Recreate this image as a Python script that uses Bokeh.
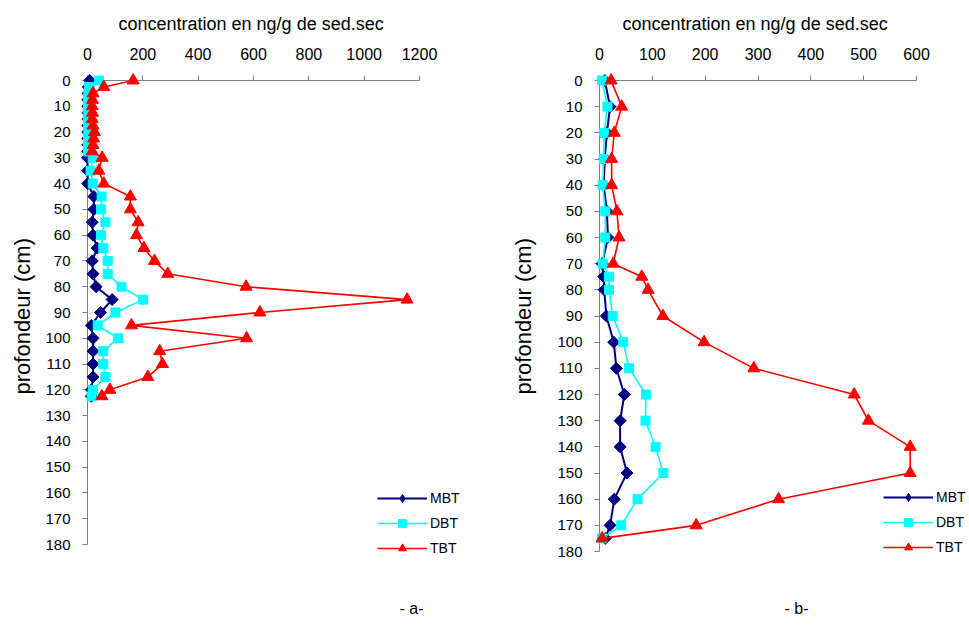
import math
from bokeh.plotting import figure
from bokeh.layouts import row
from bokeh.models import Range1d, FixedTicker, Legend, LegendItem, Label, Title
from bokeh.embed import file_html
from bokeh.resources import INLINE

FONT = "Liberation Sans"

# ---- panel a ----
depths_a = [0, 2.5, 5, 7.5, 10, 12.5, 15, 17.5, 20, 22.5, 25, 27.5, 30, 35, 40, 45, 50, 55, 60,
            65, 70, 75, 80, 85, 90, 95, 100, 105, 110, 115, 120, 122.5]
mbt_a = [8, 3, 2, 1, 1, 2, 2, 1, 1, 1, 1, 1, 0, 0, 1, 23, 23, 17, 20,
         35, 17, 20, 31, 89, 47, 14, 20, 20, 20, 20, 14, 14]
dbt_a = [41, 5, 3, 2, 2, 3, 2, 2, 3, 2, 2, 2, 19, 11, 19, 51, 49, 65, 49,
         57, 73, 73, 123, 201, 101, 37, 110, 57, 57, 65, 19, 15]
tbt_a = [165, 59, 20, 18, 17, 18, 17, 20, 25, 22, 20, 17, 53, 41, 59, 155, 155, 183, 177,
         204, 242, 290, 573, 1155, 623, 159, 575, 261, 271, 218, 81, 52]
xticks_a = [0, 200, 400, 600, 800, 1000, 1200]

# ---- panel b ----
depths_b = [0, 10, 20, 30, 40, 50, 60, 70, 75, 80, 90, 100, 110, 120, 130, 140, 150, 160, 170, 175]
mbt_b = [10, 20, 14, 10, 8, 14, 16, 5, 8, 9, 13, 27, 32, 47, 39, 39, 52, 28, 20, 11]
dbt_b = [5, 15, 9, 8, 6, 11, 11, 6, 18, 18, 25, 45, 56, 88, 87, 106, 121, 72, 41, 5]
tbt_b = [22, 42, 28, 23, 23, 33, 37, 26, 80, 92, 120, 198, 292, 482, 509, 588, 588, 339, 183, 5]
xticks_b = [0, 100, 200, 300, 400, 500, 600]

yticks = list(range(0, 181, 10))
series_names = ["MBT", "DBT", "TBT"]
colors = ["#000080", "#00FFFF", "#FF0000"]
xlabel = "concentration en ng/g de sed.sec"
ylabel = "profondeur  (cm)"

H = 620
TOP = 80


def make(depths, mbt, dbt, tbt, xmax, xticks, width, bl, axis_px_x, axis_px_y,
         legend_xy, tag, tag_xy, xlabel_off, ylabel_off, ylabel_standoff):
    frame_w = width - bl
    frame_h = H - TOP
    x_end = xmax * frame_w / axis_px_x
    y_end = 180 * frame_h / axis_px_y
    p = figure(width=width, height=H, x_range=Range1d(0, x_end), y_range=Range1d(y_end, 0),
               x_axis_location="above", output_backend="svg", toolbar_location=None,
               title=None, min_border_left=bl, min_border_right=0,
               min_border_top=TOP, min_border_bottom=0)
    p.xgrid.visible = False
    p.ygrid.visible = False
    p.outline_line_color = None
    p.background_fill_color = "white"

    for ax in (p.xaxis[0], p.yaxis[0]):
        ax.axis_line_color = "#808080"
        ax.major_tick_line_color = "#808080"
        ax.minor_tick_line_color = None
        ax.major_tick_out = 5
        ax.major_tick_in = 0
        ax.major_label_text_font = FONT
        ax.major_label_text_color = "black"

    xa = p.xaxis[0]
    xa.ticker = FixedTicker(ticks=xticks)
    xa.bounds = (0, xmax)
    xa.major_label_text_font_size = "16px"
    xa.major_label_standoff = 16

    ya = p.yaxis[0]
    ya.ticker = FixedTicker(ticks=yticks)
    ya.bounds = (0, 180)
    ya.major_label_text_font_size = "15px"
    ya.major_label_standoff = 12

    p.add_layout(Title(text=xlabel, align="left", offset=xlabel_off, text_font=FONT,
                       text_font_size="18px", text_font_style="normal",
                       text_color="black", standoff=22), "above")
    p.add_layout(Title(text=ylabel, align="left", offset=ylabel_off, text_font=FONT,
                       text_font_size="22px", text_font_style="normal",
                       text_color="black", standoff=ylabel_standoff), "left")

    items = []
    l1 = p.line(mbt, depths, line_color=colors[0], line_width=2, level="overlay")
    p.scatter(mbt, depths, marker="square", angle=math.pi / 4, size=8.5,
              fill_color=colors[0], line_color=colors[0], level="overlay")
    k1 = p.scatter([float("nan")], [float("nan")], marker="diamond",
                   fill_color=colors[0], line_color=colors[0])
    items.append(LegendItem(label=series_names[0], renderers=[l1, k1]))
    l2 = p.line(dbt, depths, line_color=colors[1], line_width=1.6, level="overlay")
    s2 = p.scatter(dbt, depths, marker="square", size=9,
                   fill_color=colors[1], line_color=colors[1], level="overlay")
    items.append(LegendItem(label=series_names[1], renderers=[l2, s2]))
    l3 = p.line(tbt, depths, line_color=colors[2], line_width=1.6, level="overlay")
    s3 = p.scatter(tbt, depths, marker="triangle", size=12,
                   fill_color=colors[2], line_color=colors[2], level="overlay")
    items.append(LegendItem(label=series_names[2], renderers=[l3, s3]))

    legend = Legend(items=items, location=legend_xy, orientation="vertical",
                    border_line_color=None, background_fill_alpha=0,
                    label_text_font=FONT, label_text_font_size="14px",
                    label_text_color="black",
                    glyph_width=50, glyph_height=20, label_height=20,
                    spacing=5, padding=0, margin=0, label_standoff=3)
    p.add_layout(legend)

    p.add_layout(Label(x=tag_xy[0], y=tag_xy[1], text=tag, text_font=FONT,
                       text_font_size="16px", text_align="center",
                       text_baseline="middle", text_color="black"))
    return p


pa = make(depths_a, mbt_a, dbt_a, tbt_a, 1200, xticks_a, 488, 87, 332, 464,
          (290, 62), "- a-", (1171, 204.8), 31, 226, 15)
pb = make(depths_b, mbt_b, dbt_b, tbt_b, 600, xticks_b, 481, 111, 317, 471,
          (284, 63), "- b-", (373, 201.8), 23, 226, 38)

layout = row(pa, pb)
open("out.html", "w").write(file_html(layout, INLINE))
